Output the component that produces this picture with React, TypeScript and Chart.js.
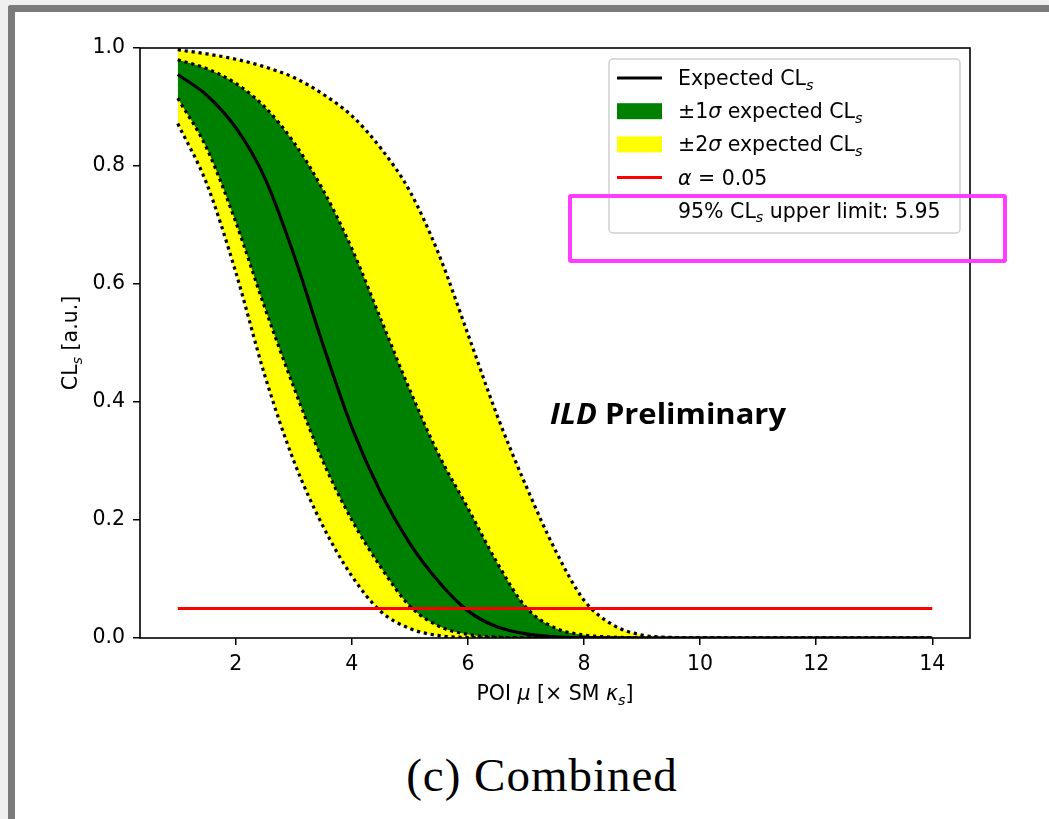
import React, { useEffect, useRef } from "react";
import { Chart, registerables } from "chart.js";

Chart.register(...registerables);

// Signal-strength scan points (POI mu) and CLs values of each curve
const mu = [1, 1.5, 2, 2.5, 3, 3.5, 4, 4.5, 5, 5.5, 6, 6.5, 7, 7.5, 8, 8.5, 9, 9.5, 10, 11, 12, 13, 14];
const expectedCLs = [0.955, 0.92, 0.865, 0.78, 0.65, 0.498, 0.357, 0.246, 0.16, 0.095, 0.046, 0.019, 0.007, 0.002, 0.0005, 0.0001, 0, 0, 0, 0, 0, 0, 0];
const plus1Sigma = [0.98, 0.965, 0.94, 0.9, 0.84, 0.76, 0.66, 0.54, 0.42, 0.31, 0.22, 0.128, 0.052, 0.017, 0.005, 0.0015, 0.0003, 0, 0, 0, 0, 0, 0];
const minus1Sigma = [0.915, 0.83, 0.705, 0.56, 0.425, 0.3, 0.2, 0.12, 0.054, 0.02, 0.006, 0.0015, 0.0003, 0, 0, 0, 0, 0, 0, 0, 0, 0, 0];
const plus2Sigma = [0.997, 0.99, 0.981, 0.968, 0.95, 0.922, 0.885, 0.83, 0.757, 0.65, 0.515, 0.378, 0.258, 0.15, 0.064, 0.022, 0.005, 0.001, 0.0002, 0, 0, 0, 0];
const minus2Sigma = [0.872, 0.77, 0.62, 0.445, 0.3, 0.19, 0.105, 0.045, 0.016, 0.004, 0.0008, 0.0001, 0, 0, 0, 0, 0, 0, 0, 0, 0, 0, 0];

const alphaLevel = 0.05;
const alphaRange = [1, 14];
const upperLimit = 5.95;

const xTicks = [2, 4, 6, 8, 10, 12, 14];
const yTicks = [0, 0.2, 0.4, 0.6, 0.8, 1.0];

type Seg = { t: string; it?: boolean; sub?: boolean };

const legendLabels: Seg[][] = [
  [{ t: "Expected CL" }, { t: "s", it: true, sub: true }],
  [{ t: "\u00b11" }, { t: "\u03c3", it: true }, { t: " expected CL" }, { t: "s", it: true, sub: true }],
  [{ t: "\u00b12" }, { t: "\u03c3", it: true }, { t: " expected CL" }, { t: "s", it: true, sub: true }],
  [{ t: "\u03b1", it: true }, { t: " = 0.05" }],
  [{ t: "95% CL" }, { t: "s", it: true, sub: true }, { t: " upper limit: " + upperLimit.toFixed(2) }],
];
const xTitle: Seg[] = [{ t: "POI " }, { t: "\u03bc", it: true }, { t: " [\u00d7 SM " }, { t: "\u03ba", it: true }, { t: "s", it: true, sub: true }, { t: "]" }];
const yTitle: Seg[] = [{ t: "CL" }, { t: "s", it: true, sub: true }, { t: " [a.u.]" }];

const FONT = '"DejaVu Sans"';
const GREEN = "#008000";
const YELLOW = "#ffff00";
const RED = "#ff0000";
const TEXT_SIZE = 20.5;

function segFont(s: Seg, size: number) {
  const sz = s.sub ? size * 0.7 : size;
  return `${s.it ? "italic " : ""}${sz}px ${FONT}`;
}
function richWidth(ctx: CanvasRenderingContext2D, segs: Seg[], size: number) {
  let w = 0;
  for (const s of segs) {
    ctx.font = segFont(s, size);
    w += ctx.measureText(s.t).width;
  }
  return w;
}
function drawRich(ctx: CanvasRenderingContext2D, segs: Seg[], x: number, y: number, size: number) {
  let cx = x;
  ctx.textBaseline = "alphabetic";
  ctx.textAlign = "left";
  for (const s of segs) {
    ctx.font = segFont(s, size);
    ctx.fillText(s.t, cx, s.sub ? y + size * 0.22 : y);
    cx += ctx.measureText(s.t).width;
  }
}

const pts = (ys: number[]) => mu.map((x, i) => ({ x, y: ys[i] }));

const decorPlugin = {
  id: "decor",
  afterDatasetsDraw(chart: any) {
    const { ctx, chartArea: a } = chart;
    ctx.save();
    ctx.strokeStyle = "#000";
    ctx.lineWidth = 1.6;
    ctx.strokeRect(a.left, a.top, a.right - a.left, a.bottom - a.top);
    ctx.restore();
  },
  afterDraw(chart: any) {
    const { ctx, chartArea: a } = chart;
    const size = TEXT_SIZE;
    ctx.save();
    ctx.fillStyle = "#000";

    // axis titles
    const xw = richWidth(ctx, xTitle, size);
    drawRich(ctx, xTitle, (a.left + a.right) / 2 - xw / 2, 700, size);
    const yw = richWidth(ctx, yTitle, size);
    ctx.save();
    ctx.translate(77, (a.top + a.bottom) / 2);
    ctx.rotate(-Math.PI / 2);
    drawRich(ctx, yTitle, -yw / 2, 0, size);
    ctx.restore();

    // legend
    const lx = a.right - 361, ly = a.top + 11, lw = 351, lh = 174;
    ctx.beginPath();
    ctx.roundRect(lx, ly, lw, lh, 4);
    ctx.fillStyle = "rgba(255,255,255,0.8)";
    ctx.fill();
    ctx.strokeStyle = "#d0d0d0";
    ctx.lineWidth = 1.5;
    ctx.stroke();
    const hx0 = lx + 8, hx1 = lx + 53, tx = lx + 69;
    legendLabels.forEach((segs, i) => {
      const cy = ly + 19 + i * 33.2;
      if (i === 0 || i === 3) {
        ctx.strokeStyle = i === 0 ? "#000" : RED;
        ctx.lineWidth = 3;
        ctx.beginPath();
        ctx.moveTo(hx0, cy);
        ctx.lineTo(hx1, cy);
        ctx.stroke();
      } else if (i === 1 || i === 2) {
        ctx.fillStyle = i === 1 ? GREEN : YELLOW;
        ctx.fillRect(hx0, cy - 8, hx1 - hx0, 16);
      }
      ctx.fillStyle = "#000";
      drawRich(ctx, segs, tx, cy + 7, size);
    });

    // preliminary label, stretched to its printed width
    ctx.fillStyle = "#000";
    ctx.textBaseline = "alphabetic";
    ctx.textAlign = "left";
    const f1 = 'italic bold 28px "Open Sans"';
    const f2 = 'bold 28px "Open Sans"';
    ctx.font = f1;
    const w1 = ctx.measureText("ILD ").width;
    ctx.font = f2;
    const w2 = ctx.measureText("Preliminary").width;
    const sx = 236 / (w1 + w2);
    ctx.save();
    ctx.translate(550, 424);
    ctx.scale(sx, 1);
    ctx.font = f1;
    ctx.fillText("ILD", 0, 0);
    ctx.font = f2;
    ctx.fillText("Preliminary", w1, 0);
    ctx.restore();
    ctx.restore();
  },
};

export default function App() {
  const ref = useRef<HTMLCanvasElement>(null);

  useEffect(() => {
    if (!ref.current) return;
    const dotted = { borderColor: "#000", borderWidth: 3.2, borderDash: [3.2, 3.8], borderCapStyle: "butt" as const };
    const chart = new Chart(ref.current, {
      type: "line",
      data: {
        datasets: [
          { label: "Expected CLs", data: pts(expectedCLs), borderColor: "#000", borderWidth: 3.2, fill: false },
          { label: "+1 sigma", data: pts(plus1Sigma), ...dotted, fill: 2, backgroundColor: GREEN },
          { label: "-1 sigma", data: pts(minus1Sigma), ...dotted, fill: false },
          { label: "+2 sigma", data: pts(plus2Sigma), ...dotted, fill: 4, backgroundColor: YELLOW },
          { label: "-2 sigma", data: pts(minus2Sigma), ...dotted, fill: false },
          {
            label: "alpha",
            data: alphaRange.map((x) => ({ x, y: alphaLevel })),
            borderColor: RED,
            borderWidth: 3,
            fill: false,
            order: -1,
          },
        ],
      },
      options: {
        responsive: false,
        animation: false,
        events: [],
        elements: { point: { radius: 0 }, line: { cubicInterpolationMode: "monotone" } },
        layout: { padding: { left: 0, top: 48, right: 79, bottom: 0 } },
        plugins: {
          legend: { display: false },
          tooltip: { enabled: false },
          filler: { drawTime: "beforeDatasetsDraw" },
        },
        scales: {
          x: {
            type: "linear",
            min: 0.35,
            max: 14.65,
            afterFit: (s: any) => { s.height = 102; },
            afterBuildTicks: (s: any) => { s.ticks = xTicks.map((v) => ({ value: v })); },
            border: { display: false },
            grid: { drawOnChartArea: false, drawTicks: true, tickLength: 7, color: "#000", lineWidth: 1.5 },
            ticks: { color: "#000", font: { family: "DejaVu Sans", size: TEXT_SIZE }, padding: 7, maxRotation: 0 },
          },
          y: {
            type: "linear",
            min: 0,
            max: 1,
            afterFit: (s: any) => { s.width = 140; },
            afterBuildTicks: (s: any) => { s.ticks = yTicks.map((v) => ({ value: v })); },
            border: { display: false },
            grid: { drawOnChartArea: false, drawTicks: true, tickLength: 7, color: "#000", lineWidth: 1.5 },
            ticks: { color: "#000", font: { family: "DejaVu Sans", size: TEXT_SIZE }, padding: 8, callback: (v: any) => Number(v).toFixed(1) },
          },
        },
      },
      plugins: [decorPlugin],
    });
    return () => chart.destroy();
  }, []);

  return (
    <div style={{ position: "absolute", left: 0, top: 0, width: 1049, height: 819, overflow: "hidden", background: "#efefef" }}>
      <div
        style={{
          position: "absolute",
          left: 8,
          top: 5,
          width: 1060,
          height: 840,
          background: "#fff",
          borderTop: "7px solid #7b7b7b",
          borderLeft: "7px solid #7b7b7b",
          borderTopLeftRadius: 3,
        }}
      />
      <canvas ref={ref} width={1049} height={740} style={{ position: "absolute", left: 0, top: 0 }} />
      <div
        style={{
          position: "absolute",
          left: 568,
          top: 194,
          width: 431,
          height: 61,
          border: "4px solid #ff3cff",
          borderRadius: 3,
        }}
      />
      <div
        style={{
          position: "absolute",
          left: 0,
          width: 1084,
          top: 745,
          textAlign: "center",
          fontFamily: '"Liberation Serif", serif',
          fontSize: 47,
          letterSpacing: 1,
          color: "#000",
          lineHeight: "60px",
        }}
      >
        (c) Combined
      </div>
    </div>
  );
}
